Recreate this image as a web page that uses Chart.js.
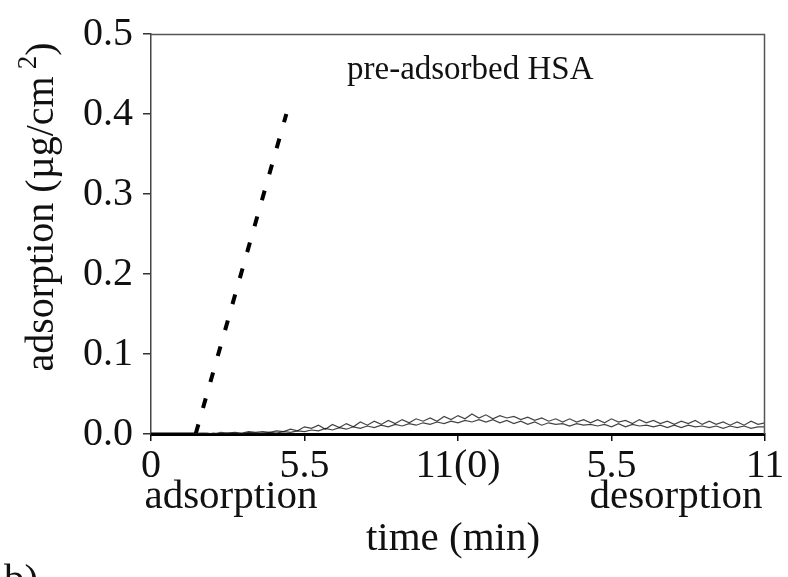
<!DOCTYPE html>
<html>
<head>
<meta charset="utf-8">
<script src="https://cdn.jsdelivr.net/npm/chart.js@4/dist/chart.umd.min.js"></script>
<style>
  html, body { margin: 0; padding: 0; background: #fff; }
  #wrap { width: 788px; height: 577px; position: relative; }
</style>
</head>
<body>
<div id="wrap"><canvas id="chart" width="788" height="577"></canvas></div>
<script>
// x ticks (minutes): adsorption 0..11, then desorption 0..11
const tickValues = [0, 5.5, 11, 16.5, 22];
const tickLabels = ['0', '5.5', '11(0)', '5.5', '11'];
const yTicks = [0, 0.1, 0.2, 0.3, 0.4, 0.5];

// adsorption on bare surface (dashed)
const baseTimes = [0, 1.6];
const baseValues = [0, 0];
const dashTimes = [1.6, 4.85];
const dashValues = [0, 0.40];

// pre-adsorbed HSA trace, sampled every 0.25 min from 1.5 min
const noiseStart = 1.5;
const noiseStep = 0.25;
const traceA = [
  0.000, 0.001,
  0.001, 0.000, 0.002, 0.001,
  0.002, 0.001, 0.003, 0.002,
  0.003, 0.002, 0.004, 0.003,
  0.006, 0.004, 0.009, 0.007,
  0.011, 0.006, 0.012, 0.008,
  0.013, 0.009, 0.015, 0.011,
  0.016, 0.012, 0.017, 0.013,
  0.018, 0.014, 0.019, 0.016,
  0.020, 0.016, 0.022, 0.018,
  0.023, 0.019, 0.025, 0.020,
  0.024, 0.019, 0.023, 0.020,
  0.022, 0.018, 0.021, 0.017,
  0.020, 0.016, 0.019, 0.015,
  0.019, 0.015, 0.018, 0.014,
  0.018, 0.014, 0.019, 0.015,
  0.017, 0.013, 0.018, 0.014,
  0.017, 0.013, 0.016, 0.012,
  0.016, 0.013, 0.017, 0.012,
  0.016, 0.012, 0.015, 0.011,
  0.015, 0.011, 0.016, 0.012,
  0.014
];
const traceB = [
  0.000, 0.000,
  0.000, 0.001, 0.000, 0.001,
  0.001, 0.000, 0.002, 0.001,
  0.001, 0.002, 0.001, 0.003,
  0.002, 0.004, 0.003, 0.005,
  0.004, 0.007, 0.005, 0.008,
  0.006, 0.009, 0.007, 0.010,
  0.008, 0.011, 0.009, 0.012,
  0.010, 0.013, 0.011, 0.014,
  0.012, 0.015, 0.013, 0.016,
  0.014, 0.017, 0.015, 0.018,
  0.015, 0.018, 0.014, 0.017,
  0.013, 0.016, 0.012, 0.015,
  0.011, 0.014, 0.012, 0.013,
  0.010, 0.013, 0.011, 0.012,
  0.010, 0.012, 0.009, 0.013,
  0.009, 0.012, 0.010, 0.011,
  0.009, 0.011, 0.008, 0.011,
  0.008, 0.011, 0.009, 0.010,
  0.008, 0.010, 0.007, 0.010,
  0.008, 0.010, 0.007, 0.009,
  0.009
];

const SERIF = '"Liberation Serif", "DejaVu Serif", serif';

function pairs(xs, ys) { return ys.map((y, i) => ({ x: xs[i], y })); }
function trace(ys) { return ys.map((y, i) => ({ x: noiseStart + i * noiseStep, y })); }

const annotations = {
  id: 'annotations',
  afterDraw(chart) {
    const { ctx, chartArea: a } = chart;
    ctx.save();
    // frame top/right
    ctx.strokeStyle = '#555';
    ctx.lineWidth = 1.5;
    ctx.beginPath();
    ctx.moveTo(a.left, a.top + 0.5);
    ctx.lineTo(a.right - 0.5, a.top + 0.5);
    ctx.lineTo(a.right - 0.5, a.bottom);
    ctx.stroke();

    ctx.fillStyle = '#111';
    ctx.textBaseline = 'alphabetic';
    ctx.font = '33px ' + SERIF;
    ctx.textAlign = 'left';
    ctx.fillText('pre-adsorbed HSA', 347, 79);

    ctx.font = '41px ' + SERIF;
    ctx.textAlign = 'center';
    ctx.fillText('adsorption', 231, 508);
    ctx.fillText('desorption', 676, 508);
    ctx.fillText('time (min)', 453, 550);
    ctx.textAlign = 'left';
    ctx.fillText('b)', 4, 592);

    // y title with superscript
    ctx.translate(42, 207);
    ctx.rotate(-Math.PI / 2);
    const main = 'adsorption (\u00b5g/cm';
    ctx.font = '40px ' + SERIF;
    const w1 = ctx.measureText(main).width;
    ctx.font = '27px ' + SERIF;
    const w2 = ctx.measureText('2').width;
    ctx.font = '40px ' + SERIF;
    const w3 = ctx.measureText(')').width;
    const total = w1 + 7 + w2 + w3;
    let x = -total / 2;
    ctx.textBaseline = 'middle';
    ctx.fillText(main, x, 0);
    x += w1 + 7;
    ctx.font = '27px ' + SERIF;
    ctx.fillText('2', x, -13);
    x += w2;
    ctx.font = '40px ' + SERIF;
    ctx.fillText(')', x, 0);
    ctx.restore();
  }
};

new Chart(document.getElementById('chart').getContext('2d'), {
  type: 'line',
  data: {
    datasets: [
      {
        data: trace(traceB),
        borderColor: 'rgba(20,20,20,0.8)',
        borderWidth: 1.2,
        pointRadius: 0,
        tension: 0
      },
      {
        data: trace(traceA),
        borderColor: 'rgba(20,20,20,0.8)',
        borderWidth: 1.2,
        pointRadius: 0,
        tension: 0
      },
      {
        data: pairs(baseTimes, baseValues),
        borderColor: '#000',
        borderWidth: 3,
        pointRadius: 0
      },
      {
        data: pairs(dashTimes, dashValues),
        borderColor: '#000',
        borderWidth: 4,
        borderDash: [10, 17],
        pointRadius: 0
      }
    ]
  },
  options: {
    responsive: false,
    animation: false,
    events: [],
    layout: { autoPadding: false, padding: { left: 0, top: 32, right: 23, bottom: 0 } },
    plugins: { legend: { display: false }, tooltip: { enabled: false } },
    scales: {
      x: {
        type: 'linear',
        min: 0,
        max: 22,
        afterBuildTicks(scale) { scale.ticks = tickValues.map(v => ({ value: v })); },
        afterFit(scale) { scale.height = 143; },
        ticks: {
          callback: (v) => tickLabels[tickValues.indexOf(v)],
          font: { family: SERIF, size: 40 },
          color: '#111',
          padding: 1,
          maxRotation: 0,
          autoSkip: false
        },
        grid: { drawOnChartArea: false, tickLength: 7, color: '#111', lineWidth: 1.5 },
        border: { color: '#000', width: 3 }
      },
      y: {
        min: 0,
        max: 0.5,
        afterBuildTicks(scale) { scale.ticks = yTicks.map(v => ({ value: v })); },
        afterFit(scale) { scale.width = 151; },
        ticks: {
          callback: (v) => v.toFixed(1),
          font: { family: SERIF, size: 40 },
          color: '#111',
          padding: 10
        },
        grid: { drawOnChartArea: false, tickLength: 8, color: '#333', lineWidth: 1.5 },
        border: { color: '#444', width: 1.5 }
      }
    }
  },
  plugins: [annotations]
});
</script>
</body>
</html>
